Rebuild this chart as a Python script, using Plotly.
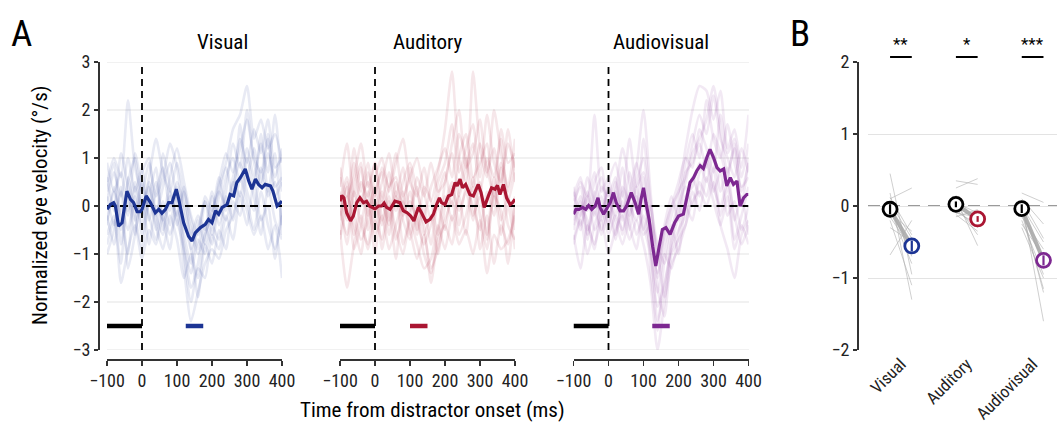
import plotly.graph_objects as go

W, H = 1057, 430
FONT = "Liberation Sans Narrow, Roboto Condensed, Arial Narrow, Liberation Sans, sans-serif"

conditions = ["Visual", "Auditory", "Audiovisual"]
colors = ["rgb(28,52,148)", "rgb(170,22,50)", "rgb(125,40,145)"]
faint_colors = ["rgba(28,52,148,0.10)", "rgba(170,22,50,0.10)", "rgba(125,40,145,0.10)"]

# ---------- Panel A: mean traces ----------
vis_t = [-100, -90, -81, -76, -67, -57, -43, -33, -24, -14, -5, 0, 12, 24, 38, 48, 57, 67, 76, 86, 90, 98, 105,
         119, 133, 143, 152, 167, 181, 190, 200, 210, 219, 229, 243, 252, 262, 271, 281, 295, 305, 314, 324, 333,
         343, 352, 367, 374, 386, 395, 400]
vis_v = [-0.07, 0.03, 0.07, 0.0, -0.42, -0.35, 0.31, 0.14, 0.07, -0.12, -0.12, -0.07, 0.21, 0.07, -0.14, -0.07,
         -0.15, -0.07, 0.07, 0.07, 0.17, 0.35, 0.14, -0.35, -0.63, -0.73, -0.56, -0.45, -0.38, -0.28, -0.35, -0.10,
         -0.17, -0.03, 0.03, 0.24, 0.21, 0.49, 0.59, 0.77, 0.52, 0.35, 0.56, 0.45, 0.38, 0.45, 0.42, 0.31, 0.0,
         0.07, 0.10]

aud_t = [-100, -95, -89, -81, -70, -62, -52, -43, -33, -24, -16, -10, 0, 10, 19, 26, 33, 43, 57, 71, 81, 92, 102,
         111, 124, 133, 146, 157, 167, 176, 184, 190, 200, 210, 219, 229, 235, 243, 250, 259, 271, 281, 295, 303,
         312, 324, 333, 343, 350, 357, 367, 376, 386, 393, 400]
aud_v = [0.10, 0.22, 0.17, -0.14, -0.31, -0.21, 0.07, 0.17, 0.07, 0.10, 0.0, -0.03, -0.06, 0.0, 0.0, 0.06, -0.03,
         -0.07, 0.10, 0.07, -0.10, -0.14, -0.21, -0.31, -0.03, -0.14, -0.33, -0.28, -0.17, 0.03, 0.17, 0.07, 0.03,
         0.21, 0.24, 0.49, 0.42, 0.56, 0.38, 0.45, 0.24, 0.21, 0.45, 0.28, -0.03, 0.21, 0.38, 0.35, 0.43, 0.24,
         0.45, 0.17, 0.03, 0.07, 0.14]

av_t = [-100, -93, -84, -74, -65, -57, -48, -38, -30, -24, -14, -5, 5, 14, 22, 33, 43, 52, 65, 76, 86, 93, 100,
        107, 116, 126, 135, 145, 154, 164, 176, 189, 200, 214, 224, 233, 243, 252, 262, 271, 281, 290, 300, 310,
        319, 329, 338, 348, 357, 367, 376, 386, 395, 400]
av_v = [-0.17, -0.07, -0.07, -0.03, -0.07, 0.01, -0.07, 0.0, 0.17, -0.03, -0.17, -0.07, 0.07, 0.28, 0.07, -0.10,
        -0.10, 0.0, 0.28, 0.07, -0.17, 0.14, 0.38, 0.07, -0.28, -0.84, -1.25, -0.84, -0.49, -0.45, -0.59, -0.35,
        -0.21, -0.17, 0.14, 0.49, 0.59, 0.73, 0.84, 0.78, 1.01, 1.18, 1.01, 0.80, 0.73, 0.77, 0.42, 0.59, 0.45,
        0.52, 0.0, 0.17, 0.24, 0.24]

# ---------- Panel A: individual subject traces (sampled every 20 ms) ----------
subj_t = list(range(-100, 401, 20))
vis_subj = [
    [0.5, 1.0, 0.6, 2.2, 0.8, 0.3, 0.9, 0.2, 0.6, 1.3, 0.8, -0.2, -0.9, -0.5, 0.1, -0.3, 0.4, 0.9, 1.6, 1.9, 2.5, 1.4, 1.8, 1.2, 1.5, 0.9],
    [-0.6, -0.2, -1.6, -0.9, -0.4, -1.1, -0.5, -0.8, -0.2, -0.6, -0.1, -1.3, -2.4, -1.8, -1.2, -0.9, -1.1, -0.5, -0.2, 0.3, -0.1, -0.6, -0.2, -0.9, -0.4, -1.5],
    [0.2, -0.4, 0.3, -0.2, 0.5, -0.1, 0.6, 1.4, 0.7, 0.3, 0.9, 0.2, -0.5, -1.0, -0.6, -0.1, 0.3, 0.0, 0.6, 1.2, 1.8, 1.0, 0.7, 1.5, 0.4, 0.6],
    [-0.3, 0.4, -0.8, 0.2, -0.6, 0.5, -0.2, -0.7, 0.1, -0.4, 0.4, -0.8, -1.4, -0.7, -1.0, -0.4, -0.7, 0.2, -0.3, 0.6, 0.1, -0.5, 0.3, -0.4, -0.9, -0.2],
    [0.9, 0.3, 0.7, -0.1, 1.1, 0.4, 0.0, 0.5, -0.3, 0.6, 1.2, 0.5, -0.2, -0.6, 0.2, -0.1, 0.5, 1.1, 0.7, 1.4, 0.9, 1.6, 1.1, 1.8, 0.8, 1.0],
    [-0.8, -0.3, -1.2, 0.6, -0.2, -0.9, 0.1, -0.4, -0.9, -0.2, -0.7, -1.5, -1.0, -1.9, -0.8, -1.2, -0.5, -0.9, 0.1, -0.2, 0.7, 0.2, -0.6, 0.4, -0.3, -0.7],
    [0.1, 0.7, 0.2, 1.0, 0.3, 0.8, -0.3, 0.3, 0.8, -0.1, 0.5, 0.0, -0.6, -0.2, -0.5, 0.3, -0.2, 0.6, 1.0, 0.5, 1.2, 0.6, 1.3, 0.7, 1.9, 0.3],
    [-0.2, -0.8, 0.0, -0.5, 0.2, -0.4, 0.4, -0.2, -0.6, 0.2, -0.3, -0.9, -1.7, -1.2, -0.4, -0.8, 0.0, -0.3, 0.4, 0.9, 0.3, -0.1, 0.8, 0.2, 0.5, -0.4],
    [0.6, -0.1, 1.1, 0.4, -0.3, 0.7, 1.0, -0.2, 0.4, 0.9, 0.1, -0.6, -1.2, -0.3, -0.8, 0.2, -0.4, 0.3, 1.3, 0.8, 2.0, 0.9, 0.4, 1.1, 0.6, 1.2],
    [-0.4, 0.3, -0.2, -1.0, 0.4, -0.6, 0.2, 0.8, -0.5, 0.3, -0.2, 0.4, -0.9, -1.5, -0.6, -0.2, 0.6, -0.1, 0.5, 0.2, 1.0, 0.4, 1.5, 0.3, 1.1, -0.6],
    [0.3, 0.9, -0.5, 0.5, 1.0, -0.2, 0.5, -0.5, 1.1, 0.4, -0.4, 0.3, -0.3, -0.9, 0.1, -0.6, 0.2, 0.8, 0.2, 1.7, 0.6, 1.2, 0.5, 1.4, 0.2, 0.5],
    [-1.0, -0.5, 0.4, -1.3, -0.6, 0.2, -0.8, 0.0, -0.3, -0.9, 0.3, -1.0, -2.0, -1.3, -1.5, -0.6, -0.9, -0.2, -0.7, 0.2, -0.4, 0.5, -0.3, 0.0, -1.1, 0.1],
]
aud_subj = [
    [0.4, 1.3, 0.2, 0.8, -0.2, 0.6, 1.0, 0.3, 0.9, 1.4, 0.5, 0.2, 0.8, 0.1, 0.7, 1.6, 2.8, 1.0, 0.5, 2.8, 1.2, 0.6, 2.0, 1.1, 0.4, 1.4],
    [-0.5, -1.7, -0.8, -0.2, -0.9, -0.3, -0.7, 0.1, -0.5, -1.0, -0.3, -0.8, -1.3, -1.1, -0.4, -0.9, -0.2, -0.8, -0.5, -1.0, -0.3, -1.4, -0.6, -0.9, -0.7, -0.2],
    [0.8, 0.2, 0.6, 1.3, 0.4, 0.9, 0.1, 0.7, -0.1, 0.5, 0.9, 0.3, -0.2, 0.4, 0.8, 1.2, 0.6, 1.5, 1.0, 0.4, 1.3, 0.8, 0.2, 1.6, 0.9, 1.1],
    [-0.2, 0.4, -0.6, 0.1, 0.5, -0.4, 0.3, -0.6, 0.2, -0.3, -0.7, -0.2, -1.0, -1.4, -0.5, 0.2, -0.3, 0.3, 1.0, -0.2, 0.2, -0.6, 0.6, -0.3, 0.2, -0.5],
    [0.3, -0.3, 0.9, 0.0, 0.7, 0.2, 0.8, 0.4, 1.1, 0.2, 0.6, 1.0, 0.3, -0.3, 0.5, 0.9, 1.7, 0.7, 1.2, 1.7, 0.6, 1.9, 0.9, 0.5, 1.3, 0.8],
    [-0.7, -0.1, -0.4, -1.0, 0.0, -0.6, -0.2, -0.9, -0.4, 0.1, -0.5, -1.1, -0.6, -1.3, -0.9, -0.3, 0.1, -0.6, -0.2, 0.4, -0.9, -0.2, -1.2, -0.4, -0.8, 0.0],
    [0.1, 0.6, 0.0, 0.5, 0.2, 0.9, -0.3, 0.4, 0.6, -0.2, 0.3, -0.5, 0.4, 0.1, -0.6, 0.5, 1.1, 0.2, 0.8, 1.3, 0.3, 1.0, 0.6, 1.4, 0.1, 0.7],
    [-0.1, -0.6, 0.3, -0.4, -0.8, 0.1, -0.4, 0.2, -0.7, -0.2, 0.1, -0.3, -0.8, -0.4, 0.0, -0.5, 0.4, -0.1, 0.3, -0.3, 0.5, -0.7, 0.2, -0.1, -1.2, 0.2],
    [0.6, 0.0, 1.2, 0.3, 0.9, -0.1, 0.5, 1.1, 0.2, 0.8, -0.1, 0.6, 0.2, 0.9, 0.3, 0.5, 1.3, 2.0, 0.8, 1.1, 1.8, 0.7, 1.2, 0.4, 1.6, 0.5],
    [-0.3, 0.5, -0.9, -0.4, 0.3, -1.0, 0.1, -0.4, 0.3, -0.8, -0.2, 0.4, -0.6, -0.2, -1.0, 0.0, 0.5, -0.4, 0.4, 0.0, -0.5, 0.3, -0.2, 0.8, -0.4, -0.7],
    [0.2, -0.8, 0.4, 0.9, -0.5, 0.3, 0.7, -0.3, 0.5, 0.0, 0.8, -0.6, 0.0, -0.8, 0.2, 0.7, 0.0, 1.0, 1.5, 0.6, 0.9, 1.3, 0.0, 0.9, 0.3, 1.0],
    [-0.6, 0.2, -0.2, -0.7, -0.3, 0.4, -0.9, -0.1, -1.1, 0.3, -0.6, 0.0, -0.4, -1.6, -0.7, -0.4, -0.8, 0.2, -0.6, 0.6, -0.2, -0.9, 0.4, -0.6, 0.0, -0.9],
]
av_subj = [
    [-0.1, 0.5, 0.2, 1.9, 0.3, 0.6, -0.2, 0.4, 0.1, 0.8, 2.0, 0.3, -1.1, -0.6, 0.0, 0.3, 1.2, 2.0, 2.5, 2.4, 1.8, 2.4, 1.2, 1.6, 0.8, 1.9],
    [-0.6, -1.3, -0.4, -0.8, -0.3, -1.0, -0.5, -0.2, -0.7, -0.3, -0.8, -1.6, -3.0, -2.0, -1.2, -0.9, -0.4, 0.1, 0.3, 0.0, 0.5, -0.4, -0.9, -1.5, -0.6, -0.3],
    [0.4, -0.2, 0.6, 0.1, -0.1, 0.5, 0.9, 0.2, 1.4, 0.4, 0.7, -0.5, -1.4, -0.8, -0.2, 0.3, 0.6, 1.3, 1.9, 1.5, 2.3, 1.4, 1.0, 0.6, 1.2, 0.7],
    [-0.3, 0.2, -0.6, -0.1, -0.5, 0.1, -0.3, -0.8, -0.2, 0.2, -0.4, -1.0, -2.1, -1.6, -0.9, -0.5, -0.2, 0.6, 0.2, 0.9, 0.3, 0.7, -0.2, 0.1, -0.5, 0.0],
    [0.2, 0.6, -0.1, 0.5, 0.8, -0.2, 0.3, 1.2, 0.5, -0.1, 1.4, 0.1, -0.8, -1.2, -0.5, 0.1, 0.9, 1.5, 1.0, 2.2, 1.4, 1.0, 1.7, 0.9, 0.4, 0.6],
    [-0.8, -0.3, -1.0, -0.4, 0.0, -0.6, -0.2, -0.5, 0.1, -0.6, -0.2, -0.9, -1.8, -1.0, -1.3, -0.6, 0.2, 0.4, 0.9, 0.5, 1.1, 0.3, 0.8, -0.3, 0.2, -0.6],
    [0.0, -0.5, 0.3, -0.2, 0.4, 0.2, 0.6, -0.1, 0.3, 0.9, 0.2, -0.4, -1.5, -0.5, 0.0, 0.5, 1.0, 0.8, 1.6, 1.2, 0.7, 1.9, 1.1, 1.4, 0.6, 1.3],
    [-0.4, 0.1, -0.7, 0.3, -0.6, -0.1, -0.7, 0.3, -0.4, -0.9, 0.1, -0.7, -2.4, -1.7, -0.8, -0.2, 0.4, 0.0, 0.7, 1.0, 0.4, 0.0, 0.5, -0.2, -0.8, -0.4],
    [0.3, -0.4, 0.1, 0.7, -0.3, 0.4, 0.0, 0.8, -0.2, 0.5, 1.0, -0.2, -0.9, -1.9, -0.7, 0.0, 0.5, 1.1, 1.4, 1.8, 2.5, 1.6, 0.7, 1.2, 0.3, 0.9],
    [-0.5, 0.0, -0.3, -0.9, 0.2, -0.4, 0.3, -0.6, 0.0, -0.3, 0.6, -1.3, -2.6, -1.1, -0.4, -1.0, 0.0, -0.3, 0.5, 0.2, 0.8, -0.2, 0.4, -0.7, -0.2, 0.4],
    [0.1, 0.4, -0.5, 0.2, 0.6, -0.4, 0.5, -0.3, 0.7, 0.1, -0.5, 0.0, -1.2, -0.4, 0.2, -0.3, 0.7, 0.9, 1.3, 0.8, 1.5, 1.1, 0.6, 1.3, 0.0, 1.0],
    [-0.7, -0.2, 0.2, -0.5, -0.2, 0.3, -0.6, 0.1, -0.5, 0.4, -0.6, -0.4, -1.7, -2.3, -1.0, -0.7, -0.4, 0.3, -0.1, 0.6, 0.1, -0.4, 0.2, -0.9, -0.4, -0.8],
]

baseline_window = [-100, 0]
sig_windows = [[125, 175], [100, 150], [125, 175]]
bar_level = -2.5

# ---------- Panel B ----------
b_offsets = [-0.165, 0.165]
base_means = [-0.045, 0.023, -0.037]
dist_means = [-0.555, -0.18, -0.755]
base_err = [0.07, 0.04, 0.06]
dist_err = [0.075, 0.04, 0.07]
stars = ["**", "*", "***"]
subj_base = [
    [0.45, 0.18, 0.10, 0.05, -0.05, -0.10, -0.15, -0.20, -0.30, -0.68, 0.0, 0.12],
    [0.35, 0.25, 0.15, 0.10, 0.05, 0.0, -0.05, -0.10, -0.12, -0.15, 0.02, -0.08],
    [0.18, 0.10, 0.05, 0.0, -0.05, -0.10, -0.15, -0.20, -0.25, -0.30, 0.08, -0.05],
]
subj_dist = [
    [-0.95, -1.30, 0.25, -0.45, -0.80, -0.35, -0.60, -1.10, -0.50, -0.20, -0.70, -0.40],
    [0.30, 0.38, -0.25, -0.55, -0.10, -0.20, -0.30, -0.15, -0.35, -0.05, -0.40, -0.25],
    [0.05, -0.25, -1.60, -0.50, -0.80, -1.15, -0.60, -0.95, -0.70, -1.00, -0.45, -1.20],
]

# ---------- geometry (target pixel -> paper fraction) ----------
def px(x):
    return x / W

def py(y):
    return 1 - y / H

y_dom = [py(350), py(62)]
x_doms = [[px(107), px(282)], [px(340), px(515)], [px(573.5), px(748.5)]]
xb_dom = [px(868), 1.0]
xb_range = [-0.5, -0.5 + (W - 868) / 65.85]

fig = go.Figure()

means = [(vis_t, vis_v), (aud_t, aud_v), (av_t, av_v)]
subjs = [vis_subj, aud_subj, av_subj]
xnames = ["x", "x2", "x3"]

for i in range(3):
    xa = xnames[i]
    for s in subjs[i]:
        fig.add_trace(go.Scatter(x=subj_t, y=s, mode="lines", xaxis=xa, yaxis="y",
                                 line=dict(color=faint_colors[i], width=2.6, shape="spline", smoothing=0.6),
                                 showlegend=False, hoverinfo="skip"))
    fig.add_trace(go.Scatter(x=[-100, 400], y=[0, 0], mode="lines", xaxis=xa, yaxis="y",
                             line=dict(color="black", width=2, dash="8px,5px"), showlegend=False))
    fig.add_trace(go.Scatter(x=[0, 0], y=[-3, 3], mode="lines", xaxis=xa, yaxis="y",
                             line=dict(color="black", width=1.8, dash="7px,5px"), showlegend=False))
    fig.add_trace(go.Scatter(x=means[i][0], y=means[i][1], mode="lines", xaxis=xa, yaxis="y",
                             line=dict(color=colors[i], width=3.2), showlegend=False))
    fig.add_trace(go.Scatter(x=baseline_window, y=[bar_level, bar_level], mode="lines", xaxis=xa, yaxis="y",
                             line=dict(color="black", width=4.5), showlegend=False))
    fig.add_trace(go.Scatter(x=sig_windows[i], y=[bar_level, bar_level], mode="lines", xaxis=xa, yaxis="y",
                             line=dict(color=colors[i], width=4.5), showlegend=False))

for i in range(3):
    xb0 = i + b_offsets[0]
    xb1 = i + b_offsets[1]
    for a, b in zip(subj_base[i], subj_dist[i]):
        fig.add_trace(go.Scatter(x=[xb0, xb1], y=[a, b], mode="lines", xaxis="x4", yaxis="y2",
                                 line=dict(color="rgba(175,175,175,0.6)", width=1), showlegend=False))
    fig.add_trace(go.Scatter(x=[xb0, xb1], y=[base_means[i], dist_means[i]], mode="lines", xaxis="x4", yaxis="y2",
                             line=dict(color="rgba(170,170,170,0.9)", width=4), showlegend=False))
    fig.add_trace(go.Scatter(x=[xb0, xb1], y=[base_means[i], dist_means[i]], mode="markers", xaxis="x4", yaxis="y2",
                             marker=dict(symbol="circle", size=14, color="white",
                                         line=dict(color=["black", colors[i]], width=2.8)),
                             cliponaxis=False, showlegend=False))
    fig.add_trace(go.Scatter(x=[xb0, xb0], y=[base_means[i] - base_err[i], base_means[i] + base_err[i]],
                             mode="lines", xaxis="x4", yaxis="y2",
                             line=dict(color="black", width=2.2), showlegend=False))
    fig.add_trace(go.Scatter(x=[xb1, xb1], y=[dist_means[i] - dist_err[i], dist_means[i] + dist_err[i]],
                             mode="lines", xaxis="x4", yaxis="y2",
                             line=dict(color=colors[i], width=2.2), showlegend=False))

shapes = []
for g in [-3, -2, -1, 0, 1, 2, 3]:
    shapes.append(dict(type="line", xref="paper", yref="y", x0=px(107), x1=px(749), y0=g, y1=g,
                       line=dict(color="#e3e3e3", width=1), layer="below"))
shapes.append(dict(type="line", xref="x4", yref="y2", x0=xb_range[0], x1=xb_range[1], y0=0, y1=0,
                   line=dict(color="#9a9a9a", width=1.8, dash="12px,8px"), layer="below"))
annotations = []
for i in range(3):
    shapes.append(dict(type="line", xref="x4", yref="paper", x0=i + b_offsets[0], x1=i + b_offsets[1],
                       y0=py(57), y1=py(57), line=dict(color="black", width=2)))
    annotations.append(dict(x=i, y=py(44), xref="x4", yref="paper", text=stars[i], showarrow=False,
                            font=dict(size=17, color="black", family=FONT), yanchor="middle"))

centers = [(d[0] + d[1]) / 2 for d in x_doms]
for i in range(3):
    annotations.append(dict(x=centers[i], y=py(42), xref="paper", yref="paper", text=conditions[i],
                            showarrow=False, font=dict(size=21, color="black", family=FONT), yanchor="middle"))
annotations += [
    dict(x=px(9), y=py(33), xref="paper", yref="paper", text="A", showarrow=False, xanchor="left",
         yanchor="middle", font=dict(size=37, color="black", family=FONT)),
    dict(x=px(788), y=py(33), xref="paper", yref="paper", text="B", showarrow=False, xanchor="left",
         yanchor="middle", font=dict(size=37, color="black", family=FONT)),
    dict(x=px(432), y=py(410), xref="paper", yref="paper", text="Time from distractor onset (ms)",
         showarrow=False, font=dict(size=21, color="black", family=FONT), yanchor="middle"),
    dict(x=px(40), y=py(206), xref="paper", yref="paper", text="Normalized eye velocity (°/s)",
         showarrow=False, textangle=-90, font=dict(size=21, color="black", family=FONT), xanchor="center",
         yanchor="middle"),
]

tickfont = dict(size=18, color="#222", family=FONT)
xa_common = dict(range=[-100, 400], tickvals=[-100, 0, 100, 200, 300, 400], showgrid=False, zeroline=False,
                 showline=True, linecolor="#333", linewidth=1.5, ticks="outside", ticklen=5, tickwidth=1.5,
                 tickcolor="#333", anchor="free", position=py(359), tickfont=tickfont, fixedrange=True,
                 automargin=False)

layout = dict(
    width=W, height=H, margin=dict(l=0, r=0, t=0, b=0, pad=0, autoexpand=False),
    paper_bgcolor="white", plot_bgcolor="rgba(0,0,0,0)",
    font=dict(family=FONT), showlegend=False, hovermode=False,
    xaxis=dict(domain=x_doms[0], **xa_common),
    xaxis2=dict(domain=x_doms[1], **xa_common),
    xaxis3=dict(domain=x_doms[2], **xa_common),
    yaxis=dict(domain=y_dom, range=[-3, 3], tickvals=[-3, -2, -1, 0, 1, 2, 3], showgrid=False, zeroline=False,
               showline=True, linecolor="#333", linewidth=1.5, ticks="outside", ticklen=4, tickwidth=1.5,
               tickcolor="#333", anchor="free", position=px(98), tickfont=tickfont, automargin=False),
    xaxis4=dict(domain=xb_dom, range=xb_range, tickvals=[0, 1, 2], ticktext=conditions, tickangle=-45,
                showgrid=False, zeroline=False, showline=False, ticks="", anchor="y2", automargin=False,
                tickfont=dict(size=17, color="#222", family=FONT)),
    yaxis2=dict(domain=y_dom, range=[-2, 2], tickvals=[-2, -1, 0, 1, 2], showgrid=True, gridcolor="#e3e3e3",
                gridwidth=1, zeroline=False, showline=True, linecolor="#333", linewidth=1.5, ticks="outside",
                ticklen=4, tickwidth=1.5, tickcolor="#333", anchor="free", position=px(857), tickfont=tickfont,
                automargin=False),
    shapes=shapes, annotations=annotations,
)
fig.update_layout(**layout)
fig.write_html("out.html", config={"displayModeBar": False, "staticPlot": True},
               post_script="document.body.style.margin='0';document.body.style.overflow='hidden';")
